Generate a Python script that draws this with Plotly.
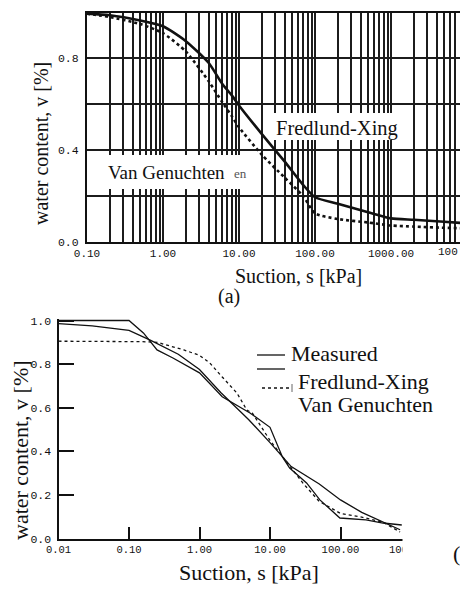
import plotly.graph_objects as go

W, H = 460, 594

# ---------------- data (a) ----------------
suction_a = [0.1, 0.2, 0.5, 1, 2, 4, 6, 8, 10, 20, 40, 70, 100, 200, 500, 1000, 2000, 5000, 8200]
fredlund_a = [0.995, 0.988, 0.965, 0.94, 0.875, 0.78, 0.69, 0.64, 0.595, 0.47, 0.35, 0.248, 0.195,
              0.167, 0.13, 0.103, 0.097, 0.088, 0.083]
genuchten_a = [0.995, 0.98, 0.95, 0.91, 0.83, 0.70, 0.61, 0.55, 0.50, 0.38, 0.28, 0.20, 0.125,
               0.10, 0.085, 0.072, 0.067, 0.062, 0.06]

# ---------------- data (b) ----------------
suction_meas = [0.01, 0.1, 0.16, 0.25, 0.42, 1.0, 2.1, 5.2, 10, 15, 19, 33, 51, 98, 230, 400, 740]
measured_b = [1.0, 1.0, 0.943, 0.865, 0.828, 0.76, 0.65, 0.576, 0.51, 0.374, 0.323, 0.255, 0.177,
              0.094, 0.085, 0.071, 0.062]
suction_fit = [0.01, 0.03, 0.1, 0.2, 0.5, 1, 2, 5, 10, 20, 50, 100, 200, 400, 700]
fredlund_b = [0.986, 0.975, 0.955, 0.91, 0.845, 0.775, 0.67, 0.545, 0.44, 0.33, 0.25, 0.177, 0.12,
              0.076, 0.04]
suction_vg = [0.01, 0.1, 0.15, 0.25, 0.6, 1.0, 1.4, 2.1, 3.4, 4.7, 5.6, 10, 20, 30, 50, 100, 200, 400, 700]
genuchten_b = [0.905, 0.905, 0.903, 0.9, 0.865, 0.84, 0.805, 0.741, 0.667, 0.589, 0.576, 0.45, 0.323,
               0.25, 0.17, 0.115, 0.098, 0.075, 0.03]

ticks_a_vals = [0.1, 1, 10, 100, 1000]
ticks_a_text = ["0.10", "1.00", "10.00", "100.00", "1000.00"]
ticks_b_vals = [0.01, 0.1, 1, 10, 100, 1000]
ticks_b_text = ["0.01", "0.10", "1.00", "10.00", "100.00", "1000.00"]

SERIF = "Liberation Serif"
MONO = "Liberation Mono"
INK = "#111111"


def px(x):
    return x / W


def py(y):
    return 1 - y / H


fig = go.Figure()

# (a) curves
fig.add_trace(go.Scatter(x=suction_a, y=fredlund_a, mode="lines", xaxis="x", yaxis="y",
                         line=dict(color=INK, width=2.6, shape="spline", smoothing=0.6), showlegend=False))
fig.add_trace(go.Scatter(x=suction_a, y=genuchten_a, mode="lines", xaxis="x", yaxis="y",
                         line=dict(color=INK, width=2.6, dash="dot", shape="spline", smoothing=0.6),
                         showlegend=False))

# (b) curves
fig.add_trace(go.Scatter(x=suction_meas, y=measured_b, mode="lines", xaxis="x2", yaxis="y2",
                         line=dict(color=INK, width=1.3), showlegend=False))
fig.add_trace(go.Scatter(x=suction_fit, y=fredlund_b, mode="lines", xaxis="x2", yaxis="y2",
                         line=dict(color=INK, width=1.3), showlegend=False))
fig.add_trace(go.Scatter(x=suction_vg, y=genuchten_b, mode="lines", xaxis="x2", yaxis="y2",
                         line=dict(color=INK, width=1.3, dash="dot"), showlegend=False))

# grid values for log axis (a)
grid_a = [k * 10.0 ** n for n in range(-1, 4) for k in range(1, 10)]
grid_a_text = []
for g in grid_a:
    match = [t for v, t in zip(ticks_a_vals, ticks_a_text) if abs(v - g) < 1e-9 * max(1, g)]
    grid_a_text.append(match[0] if match else "")

# (a) layout: plot from px 87..460, y from 12.5..242
x_left_a, x_right_a = 87, 460
dec_a = 76.0
fig.update_layout(
    xaxis=dict(
        type="log", domain=[px(x_left_a), 1.0],
        range=[-1, -1 + (x_right_a - x_left_a) / dec_a],
        tickvals=grid_a, ticktext=grid_a_text, ticks="",
        showgrid=True, gridcolor="#1c1c1c", gridwidth=1.6,
        showline=True, linecolor=INK, linewidth=2, mirror=True,
        tickfont=dict(family=MONO, size=11, color=INK),
        anchor="y", zeroline=False, automargin=False,
    ),
    yaxis=dict(
        domain=[py(242), py(12.5)], range=[0, 1.0],
        tickvals=[0, 0.2, 0.4, 0.6, 0.8, 1.0], ticktext=["0.0", "", "0.4", "", "0.8", ""],
        ticks="", showgrid=True, gridcolor="#1c1c1c", gridwidth=1.6,
        showline=True, linecolor=INK, linewidth=2, mirror=True,
        tickfont=dict(family=MONO, size=11.5, color=INK),
        anchor="x", zeroline=False, ticklabelstandoff=4, automargin=False,
    ),
)

# (b) layout: x from 58.5, decade 70.5 px; y 0 at 538.5, 1.0 at 320.5
x_left_b, x_right_b = 58.5, 440
dec_b = 70.5
fig.update_layout(
    xaxis2=dict(
        type="log", domain=[px(x_left_b), px(x_right_b)],
        range=[-2, -2 + (x_right_b - x_left_b) / dec_b],
        tickvals=ticks_b_vals, ticktext=ticks_b_text,
        ticks="inside", ticklen=12, tickwidth=2, tickcolor=INK,
        showgrid=False, showline=True, linecolor=INK, linewidth=2,
        tickfont=dict(family=MONO, size=10.5, color=INK),
        anchor="y2", zeroline=False, automargin=False,
    ),
    yaxis2=dict(
        domain=[py(538.5), py(319)], range=[0, (538.5 - 319) / 218.0],
        tickvals=[0, 0.2, 0.4, 0.6, 0.8, 1.0], ticktext=["0.0", "0.2", "0.4", "0.6", "0.8", "1.0"],
        ticks="inside", ticklen=15, tickwidth=2, tickcolor=INK,
        showgrid=False, showline=True, linecolor=INK, linewidth=2,
        tickfont=dict(family=MONO, size=11.5, color=INK),
        anchor="x2", zeroline=False, ticklabelstandoff=3, automargin=False,
    ),
)

shapes = []
# white label boxes in (a)
for (x0, x1, y0, y1) in [(89, 258, 155, 189), (274, 403, 113, 140)]:
    shapes.append(dict(type="rect", xref="paper", yref="paper",
                       x0=px(x0), x1=px(x1), y0=py(y1), y1=py(y0),
                       fillcolor="white", line=dict(width=0), layer="above"))
# mask to cut the (b) axis at the crop edge
shapes.append(dict(type="rect", xref="paper", yref="paper",
                   x0=px(402.5), x1=1.0, y0=py(566), y1=py(430),
                   fillcolor="white", line=dict(width=0), layer="above"))
# legend samples (b)
shapes.append(dict(type="line", xref="paper", yref="paper", x0=px(257), x1=px(285), y0=py(355), y1=py(355),
                   line=dict(color=INK, width=1.3)))
shapes.append(dict(type="line", xref="paper", yref="paper", x0=px(257), x1=px(285), y0=py(369), y1=py(369),
                   line=dict(color=INK, width=1.3)))
shapes.append(dict(type="line", xref="paper", yref="paper", x0=px(262), x1=px(290), y0=py(388), y1=py(388),
                   line=dict(color=INK, width=1.3, dash="dot")))
shapes.append(dict(type="line", xref="paper", yref="paper", x0=px(292), x1=px(292), y0=py(384), y1=py(392),
                   line=dict(color="#666", width=1)))
fig.update_layout(shapes=shapes)


def ann(text, x, y, size, xanchor="center", angle=0, color=INK, family=SERIF):
    return dict(text=text, x=px(x), y=py(y), xref="paper", yref="paper", showarrow=False,
                xanchor=xanchor, yanchor="middle", textangle=angle,
                font=dict(family=family, size=size, color=color))


annotations = [
    ann("Van Genuchten", 106, 172, 19, "left"),
    ann("en", 232, 173, 13, "left", color="#555"),
    ann("Fredlund-Xing", 274, 128, 20.5, "left"),
    ann("Suction, s [kPa]", 298, 276, 20),
    ann("water content, v [%]", 41, 144, 20, angle=-90),
    ann("(a)", 229, 296, 20),
    ann("100", 460, 252, 11, "right", family=MONO),
    ann("Measured", 289, 353, 22, "left"),
    ann("Fredlund-Xing", 296, 381, 22, "left"),
    ann("Van Genuchten", 296, 405, 22, "left"),
    ann("Suction, s [kPa]", 249, 572, 22),
    ann("water content, v [%]", 20, 450, 22, angle=-90),
    ann("(", 456, 553, 22),
]
fig.update_layout(annotations=annotations)

fig.update_layout(
    width=W, height=H, margin=dict(l=0, r=0, t=0, b=0, autoexpand=False),
    paper_bgcolor="white", plot_bgcolor="white", showlegend=False,
)

fig.write_html("out.html")
